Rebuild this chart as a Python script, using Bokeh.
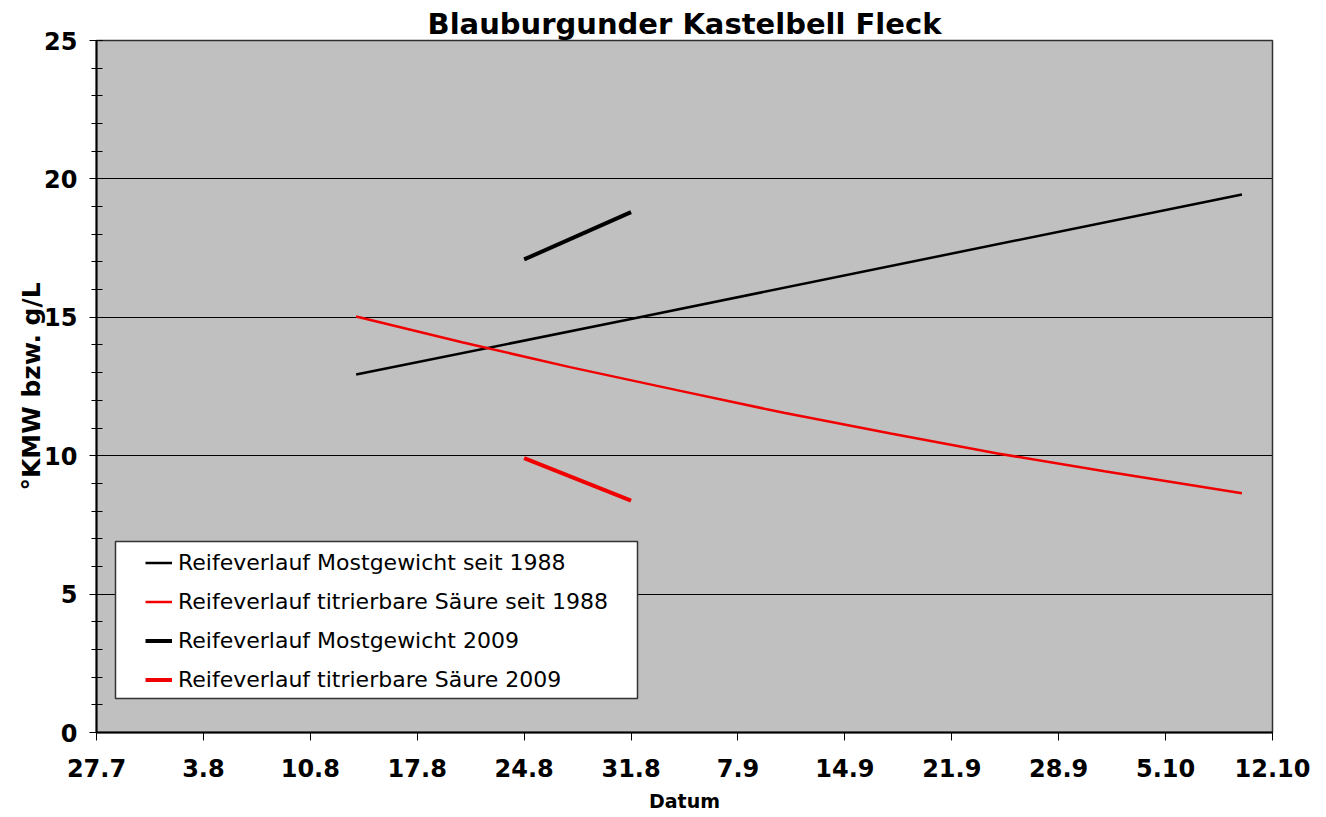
from datetime import date
from bokeh.plotting import figure
from bokeh.models import FixedTicker, Legend, LegendItem, BoxAnnotation, Range1d
from bokeh.embed import file_html
from bokeh.resources import INLINE

YEAR = 2009
START = "27.7"
tick_labels = ["27.7", "3.8", "10.8", "17.8", "24.8", "31.8", "7.9", "14.9",
               "21.9", "28.9", "5.10", "12.10"]

most_1988_dates = ["13.8", "31.8", "10.10"]
most_1988 = [12.93, 14.94, 19.44]

saeure_1988_dates = ["13.8", "20.8", "27.8", "3.9", "10.9", "17.9", "24.9", "1.10", "10.10"]
saeure_1988 = [15.03, 14.09, 13.20, 12.37, 11.55, 10.80, 10.08, 9.44, 8.64]

most_2009_dates = ["24.8", "31.8"]
most_2009 = [17.09, 18.80]

saeure_2009_dates = ["24.8", "31.8"]
saeure_2009 = [9.91, 8.38]

y_major = [0, 5, 10, 15, 20, 25]
y_minor = list(range(0, 26))


def day(s):
    d, m = (int(v) for v in s.split("."))
    d0, m0 = (int(v) for v in START.split("."))
    return (date(YEAR, m, d) - date(YEAR, m0, d0)).days


FONT = "DejaVu Sans"

p = figure(width=1320, height=817, output_backend="svg", toolbar_location=None,
           x_range=Range1d(0, day(tick_labels[-1])), y_range=Range1d(0, 25),
           min_border_left=96, min_border_right=48, min_border_top=40, min_border_bottom=85)

p.title.text = "Blauburgunder Kastelbell Fleck"
p.title.align = "center"
p.title.text_font = FONT
p.title.text_font_size = "29px"
p.title.text_font_style = "bold"
p.title.text_color = "black"
p.title.standoff = 0
p.title.offset = 0

p.border_fill_color = "white"
p.background_fill_color = "#c0c0c0"
p.outline_line_color = "#303030"
p.outline_line_width = 1.5

tick_days = [day(t) for t in tick_labels]
p.xaxis.ticker = FixedTicker(ticks=tick_days, minor_ticks=[])
p.xaxis.major_label_overrides = {d: t for d, t in zip(tick_days, tick_labels)}
p.yaxis.ticker = FixedTicker(ticks=y_major, minor_ticks=y_minor)

for ax in (p.xaxis[0], p.yaxis[0]):
    ax.axis_line_color = "black"
    ax.axis_line_width = 2
    ax.major_tick_line_color = "black"
    ax.minor_tick_line_color = "black"
    ax.major_label_text_font = FONT
    ax.major_label_text_font_style = "bold"
    ax.major_label_text_color = "black"
    ax.axis_label_text_font = FONT
    ax.axis_label_text_font_style = "bold"
    ax.axis_label_text_color = "black"

p.xaxis.axis_label = "Datum"
p.xaxis.axis_label_text_font_size = "19px"
p.xaxis.major_label_text_font_size = "24px"
p.xaxis.major_tick_out = 8
p.xaxis.major_tick_in = 0
p.xaxis.major_label_standoff = 18
p.xaxis.axis_label_standoff = 10

p.yaxis.axis_label = "°KMW bzw. g/L"
p.yaxis.axis_label_text_font_size = "25px"
p.yaxis.major_label_text_font_size = "24px"
p.yaxis.major_tick_out = 7
p.yaxis.major_tick_in = 6
p.yaxis.minor_tick_out = 5
p.yaxis.minor_tick_in = 6
p.yaxis.major_label_standoff = 12
p.yaxis.axis_label_standoff = -5

p.xgrid.grid_line_color = None
p.ygrid.ticker = FixedTicker(ticks=y_major[1:-1])
p.ygrid.grid_line_color = "black"
p.ygrid.grid_line_width = 1

RED = "#f00000"
r1 = p.line([day(d) for d in most_1988_dates], most_1988, line_color="black", line_width=2.5)
r2 = p.line([day(d) for d in saeure_1988_dates], saeure_1988, line_color=RED, line_width=2.5)
r3 = p.line([day(d) for d in most_2009_dates], most_2009, line_color="black", line_width=4)
r4 = p.line([day(d) for d in saeure_2009_dates], saeure_2009, line_color=RED, line_width=4)

box = BoxAnnotation(left=19, right=541, bottom=34, top=191,
                    left_units="screen", right_units="screen",
                    bottom_units="screen", top_units="screen",
                    fill_color="white", fill_alpha=1.0,
                    line_color="#333333", line_width=1.5, line_alpha=1.0)
p.add_layout(box)

legend = Legend(items=[
    LegendItem(label="Reifeverlauf Mostgewicht seit 1988", renderers=[r1]),
    LegendItem(label="Reifeverlauf titrierbare Säure seit 1988", renderers=[r2]),
    LegendItem(label="Reifeverlauf Mostgewicht 2009", renderers=[r3]),
    LegendItem(label="Reifeverlauf titrierbare Säure 2009", renderers=[r4]),
], location=(49, 40))
legend.background_fill_alpha = 0
legend.border_line_color = None
legend.padding = 0
legend.margin = 0
legend.spacing = 14
legend.label_height = 25
legend.glyph_height = 25
legend.glyph_width = 27
legend.label_standoff = 6
legend.label_text_font = FONT
legend.label_text_font_size = "22px"
legend.label_text_color = "black"
p.add_layout(legend, "center")

open("out.html", "w").write(file_html(p, INLINE))
